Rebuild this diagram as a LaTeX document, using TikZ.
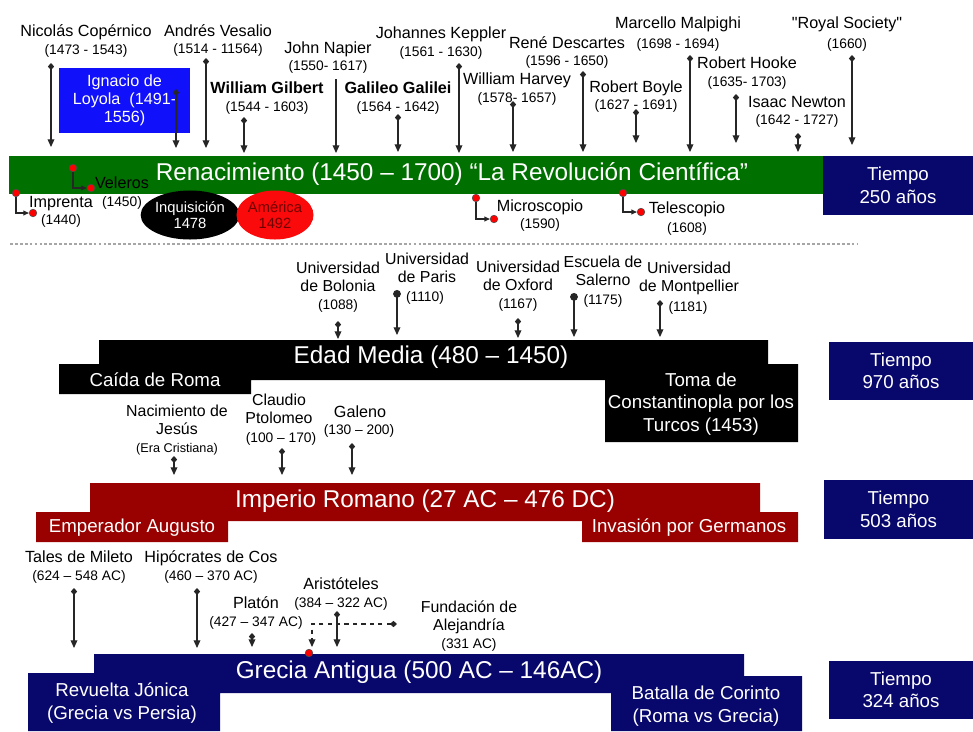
\documentclass[tikz,border=0pt]{standalone}
\usepackage{fontspec}
\setmainfont{Liberation Sans}[Ligatures=TeXOff]
\usetikzlibrary{arrows.meta,shapes.geometric}

\definecolor{rengreen}{RGB}{0,112,0}
\definecolor{timenavy}{RGB}{8,8,108}
\definecolor{romanred}{RGB}{153,0,0}
\definecolor{loyolablue}{RGB}{16,16,250}
\definecolor{americared}{RGB}{250,10,10}
\definecolor{americatext}{RGB}{110,0,0}

\begin{document}
\begin{tikzpicture}[
      x=0.025cm, y=-0.025cm,
      namelab/.style={font=\fontsize{11.5}{13}\selectfont, inner sep=0pt, text height=0.72em, text depth=0pt},
      datelab/.style={font=\fontsize{9.8}{11}\selectfont, inner sep=0pt, text height=0.72em, text depth=0pt},
      multilab/.style={font=\fontsize{11.3}{12.8}\selectfont, inner sep=0pt, align=center},
      bartitle/.style={font=\fontsize{17.3}{20}\selectfont, text=white, inner sep=0pt, text height=0.72em, text depth=0pt},
      steplab/.style={font=\fontsize{13.3}{16}\selectfont, text=white, inner sep=0pt, align=center},
      timelab/.style={font=\fontsize{13.3}{16}\selectfont, text=white, inner sep=0pt, align=center},
      pin/.style={draw=black!85, line width=0.8pt, {Diamond[length=5pt,width=4.5pt]}-{Triangle[length=5.5pt,width=4.8pt]}},
      pinplain/.style={draw=black!85, line width=0.8pt, -{Triangle[length=5.5pt,width=4.8pt]}},
      pindot/.style={draw=black!85, line width=0.8pt, {Circle[length=5.5pt]}-{Triangle[length=5.5pt,width=4.8pt]}},
      elbow/.style={draw=black!85, line width=0.8pt, -{Triangle[length=4pt,width=3.5pt]}},
      reddot/.style={circle, fill=red, draw=black!70, line width=0.4pt, minimum size=0.19cm, inner sep=0pt},
      sepline/.style={draw=gray!70, line width=0.8pt, dash pattern=on 2pt off 1.5pt}
    ]
    \newcommand{\smalldate}{\fontsize{9.8}{12.8}\selectfont}
    \useasboundingbox (0,0) rectangle (973,731);

    % Time boxes on the right
    \foreach \id/\xl/\yt/\yb/\yrs in {t1/823/156/215/250, t2/829/342/400/970, t3/824/480/539/503, t4/829/661/719/324} {
      \fill[timenavy] (\xl,\yt) rectangle (973,\yb);
      \node[timelab] (\id) at ({(\xl+973)/2},{(\yt+\yb)/2}) {Tiempo\\\yrs{} años};
    }

    % Renacimiento bar
    \fill[rengreen] (9,156) rectangle (823,194);
    \node[bartitle] (ren) at (452,175) {Renacimiento (1450 – 1700) “La Revolución Científica”};

    % Ignacio de Loyola box
    \node[fill=loyolablue, text=white, font=\fontsize{11.5}{12.8}\selectfont, align=center,
          minimum width=3.275cm, minimum height=1.625cm, inner sep=0pt] (loy) at (124.5,100.5)
          {Ignacio de\\Loyola \ (1491-\\1556)};
    \coordinate (loy-s) at (176,89);
    \coordinate (loy-e) at (176,148);
    \draw[pin] (loy-s) -- (loy-e);

    % Names above the Renacimiento bar
    \foreach \id/\nm/\dt/\cx/\ny/\dy/\ax/\ay/\ey/\tp in {
        cop/Nicolás Copérnico/(1473 - 1543)/86/31/49/51/63/147/pin,
        ves/Andrés Vesalio/(1514 - 11564)/218/31/48/206/58/148/pin,
        gil/\textbf{William Gilbert}/(1544 - 1603)/267/88/106/244/117/153/pin,
        nap/John Napier/(1550- 1617)/328/48/65/336/79/153/pinplain,
        gal/\textbf{Galileo Galilei}/(1564 - 1642)/398/88/106/398/114/152/pin,
        kep/Johannes Keppler/(1561 - 1630)/441/33/51/459/63/153/pin,
        har/William Harvey/(1578- 1657)/517/79/97/513/101/152/pin,
        des/René Descartes/(1596 - 1650)/567/43/60/583/71/152/pin,
        boy/Robert Boyle/(1627 - 1691)/636/87/104/636/109/143/pin,
        mal/Marcello Malpighi/(1698 - 1694)/678/23/43/690/55/152/pin,
        hoo/Robert Hooke/(1635- 1703)/747/63/81/736/94/143/pin,
        new/Isaac Newton/(1642 - 1727)/797/102/119/798/133/152/pin,
        roy/"Royal Society"/(1660)/847/23/43/852/55/145/pin} {
      \node[namelab] (\id) at (\cx,\ny) {\nm};
      \node[datelab] (\id-d) at (\cx,\dy) {\dt};
      \coordinate (\id-s) at (\ax,\ay);
      \coordinate (\id-e) at (\ax,\ey);
      \draw[\tp] (\id-s) -- (\id-e);
    }

    % Inventions below the bar
    \foreach \id/\nm/\dt/\dx/\dy/\ex/\ey/\tx/\tya/\tyb in {
        impr/Imprenta/(1440)/16/193/33/213/61/202/219,
        vel/Veleros/(1450)/73/168/91/188/122/183/201,
        mic/Microscopio/(1590)/476/198/494/219/540/206/223,
        tel/Telescopio/(1608)/623/193/641/212/687/208/227} {
      \node[reddot] (\id-a) at (\dx,\dy) {};
      \node[reddot] (\id-b) at (\ex,\ey) {};
      \draw[elbow] (\id-a) |- (\id-b);
      \node[namelab] (\id) at (\tx,\tya) {\nm};
      \node[datelab] (\id-d) at (\tx,\tyb) {\dt};
    }

    % Inquisicion and America
    \node[ellipse, fill=black, text=white, minimum width=1.925cm, minimum height=1.225cm, inner sep=0pt,
          align=center, font=\fontsize{10.5}{11.5}\selectfont] (inq) at (190,215) {Inquisición\\1478};
    \node[ellipse, fill=americared, text=americatext, minimum width=1.925cm, minimum height=1.225cm, inner sep=0pt,
          align=center, font=\fontsize{10.5}{11.5}\selectfont] (ame) at (275,215) {América\\1492};

    % Separator
    \coordinate (sep-l) at (10,244);
    \coordinate (sep-r) at (857,244);
    \draw[sepline] (sep-l) -- (sep-r);

    % Edad Media
    \fill[black] (99,340) -- (768,340) -- (768,364) -- (798,364) -- (798,442) -- (605,442) -- (605,380)
      -- (251,380) -- (251,394) -- (59,394) -- (59,364) -- (99,364) -- cycle;
    \node[bartitle] (edad) at (431,358) {Edad Media (480 – 1450)};
    \node[steplab] (roma) at (155,380) {Caída de Roma};
    \node[steplab] (const) at (701,404) {Toma de\\Constantinopla por los\\Turcos (1453)};

    % Universities
    \node[multilab] (bol) at (338,287) {Universidad\\de Bolonia\\{\smalldate (1088)}};
    \node[multilab] (par) at (427,268) {Universidad\\de Paris};
    \node[datelab] (par-d) at (425,296) {(1110)};
    \node[multilab] (oxf) at (518,286) {Universidad\\de Oxford\\{\smalldate (1167)}};
    \node[multilab] (sal) at (603,271) {Escuela de\\Salerno};
    \node[datelab] (sal-d) at (603,299) {(1175)};
    \node[multilab] (mon) at (689,278) {Universidad\\de Montpellier};
    \node[datelab] (mon-d) at (688,306) {(1181)};
    \foreach \id/\ax/\ay/\ey/\tp in {bol/338/321/339/pin, par/397/290/335/pindot, oxf/518/318/338/pin,
        sal/574/293/337/pindot, mon/660/300/337/pin} {
      \coordinate (\id-s) at (\ax,\ay);
      \coordinate (\id-e) at (\ax,\ey);
      \draw[\tp] (\id-s) -- (\id-e);
    }

    % Imperio Romano
    \fill[romanred] (90,483) -- (760,483) -- (760,512) -- (798,512) -- (798,542) -- (582,542) -- (582,521)
      -- (228,521) -- (228,542) -- (36,542) -- (36,512) -- (90,512) -- cycle;
    \node[bartitle] (rom) at (425,502) {Imperio Romano (27 AC – 476 DC)};
    \node[steplab] (aug) at (132,528) {Emperador Augusto};
    \node[steplab] (ger) at (689,528) {Invasión por Germanos};

    % Names above Imperio Romano
    \node[multilab] (jes) at (177,420) {Nacimiento de\\Jesús};
    \node[datelab, font=\fontsize{9}{10}\selectfont] (jes-d) at (177,447) {(Era Cristiana)};
    \node[multilab] (pto) at (279,409) {Claudio\\Ptolomeo};
    \node[datelab] (pto-d) at (281,437) {(100 – 170)};
    \node[namelab] (gle) at (360,412) {Galeno};
    \node[datelab] (gle-d) at (359,429) {(130 – 200)};
    \foreach \id/\ax/\ay/\ey in {jes/174/456/475, pto/282/448/475, gle/352/443/475} {
      \coordinate (\id-s) at (\ax,\ay);
      \coordinate (\id-e) at (\ax,\ey);
      \draw[pin] (\id-s) -- (\id-e);
    }

    % Grecia Antigua
    \fill[timenavy] (94,654) -- (744,654) -- (744,676) -- (802,676) -- (802,731) -- (611,731) -- (611,693)
      -- (220,693) -- (220,731) -- (28,731) -- (28,673) -- (94,673) -- cycle;
    \node[bartitle] (gre) at (419,673) {Grecia Antigua (500 AC – 146AC)};
    \node[steplab] (jon) at (122,703) {Revuelta Jónica\\(Grecia vs Persia)};
    \node[steplab] (cor) at (706,706) {Batalla de Corinto\\(Roma vs Grecia)};

    % Names above Grecia Antigua
    \foreach \id/\nm/\dt/\cx/\ny/\dy/\ax/\ay/\ey in {
        tal/Tales de Mileto/(624 – 548 AC)/79/557/575/74/588/648,
        hip/Hipócrates de Cos/(460 – 370 AC)/211/557/575/197/588/648,
        pla/Platón/(427 – 347 AC)/256/603/621/252/633/647,
        ari/Aristóteles/(384 – 322 AC)/341/584/602/337/611/647} {
      \node[namelab] (\id) at (\cx,\ny) {\nm};
      \node[datelab] (\id-d) at (\cx,\dy) {\dt};
      \coordinate (\id-s) at (\ax,\ay);
      \coordinate (\id-e) at (\ax,\ey);
      \draw[pin] (\id-s) -- (\id-e);
    }

    % Fundacion de Alejandria
    \node[multilab] (ale) at (469,626) {Fundación de\\Alejandría\\{\smalldate (331 AC)}};
    \coordinate (ale-s) at (397,624);
    \coordinate (ale-e) at (312,647);
    \draw[pin, dashed] (ale-s) -| (ale-e);
    \node[reddot] (gre-dot) at (309,653) {};
  \end{tikzpicture}
\end{document}
